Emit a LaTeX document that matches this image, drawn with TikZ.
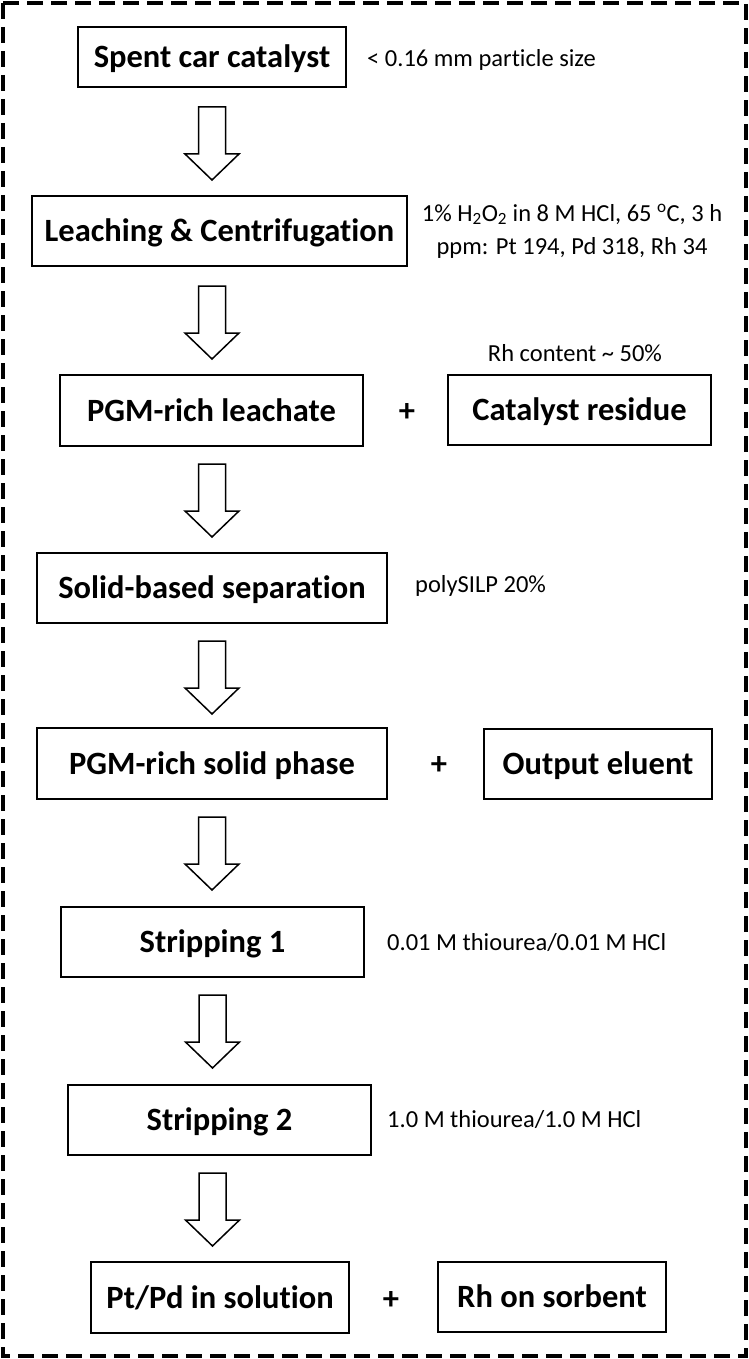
\documentclass[tikz,border=0pt]{standalone}
\usepackage{fontspec}
\setmainfont{Carlito}[Ligatures=NoCommon]
\usetikzlibrary{calc}
\tikzset{
  box/.style={draw, line width=2pt, inner sep=0pt, text height=21pt, text depth=0pt, font=\bfseries\fontsize{32.5}{39}\selectfont},
  note/.style={inner sep=0pt, text height=15.8pt, text depth=0pt, font=\fontsize{24.5}{33}\selectfont},
  notetwo/.style={inner sep=0pt, align=center, font=\fontsize{24.5}{33}\selectfont},
  plus/.style={inner sep=0pt, font=\bfseries\fontsize{32.5}{39}\selectfont},
  blockarrow/.pic={\draw[line width=1.5pt, line join=miter, fill=white]
    (-13.5,0) -- (-13.5,47) -- (-27,47) -- (0,73) -- (27,47) -- (13.5,47) -- (13.5,0) -- cycle;}
}
\begin{document}
\begin{tikzpicture}[x=1pt, y=-1pt]
\useasboundingbox (0,0) rectangle (749,1359);
\draw[line width=3.5pt, dash pattern=on 16pt off 8pt] (3,3) rectangle (746,1356);

\node[box, minimum width=268, minimum height=60] (b1) at (212,57) {Spent car catalyst};
\node[box, minimum width=375, minimum height=70] (b2) at (219.5,231) {Leaching \& Centrifugation};
\node[box, minimum width=303, minimum height=71] (b3) at (211.5,410.5) {PGM-rich leachate};
\node[box, minimum width=263, minimum height=70] (r3) at (579.5,410) {Catalyst residue};
\node[box, minimum width=350, minimum height=70] (b4) at (212,588) {Solid-based separation};
\node[box, minimum width=350, minimum height=71] (b5) at (212,763.5) {PGM-rich solid phase};
\node[box, minimum width=228, minimum height=70] (r5) at (598,764) {Output eluent};
\node[box, minimum width=303, minimum height=70] (b6) at (212.5,942) {Stripping 1};
\node[box, minimum width=303, minimum height=70] (b7) at (219.5,1120) {Stripping 2};
\node[box, minimum width=258, minimum height=71] (b8) at (220,1297.5) {Pt/Pd in solution};
\node[box, minimum width=228, minimum height=70] (r8) at (552,1297) {Rh on sorbent};

\node[plus] (p3) at (407,412) {+};
\node[plus] (p5) at (439,765) {+};
\node[plus] (p8) at (391,1300) {+};

\node[note, anchor=west] (l1) at (367,59) {< 0.16 mm particle size};
\node[notetwo] (l2) at (572,231) {1\% H\textsubscript{2}O\textsubscript{2} in 8 M HCl, 65 \textsuperscript{o}C, 3 h\\ppm: Pt 194, Pd 318, Rh 34};
\node[note] (l3) at (575,354) {Rh content \textasciitilde{} 50\%};
\node[note, anchor=west] (l4) at (415,585) {polySILP 20\%};
\node[note, anchor=west] (l6) at (387,943) {0.01 M thiourea/0.01 M HCl};
\node[note, anchor=west] (l7) at (387,1120) {1.0 M thiourea/1.0 M HCl};

\pic at ($(b1.south)+(0,19)$) {blockarrow};
\pic at ($(b1.center |- b2.south)+(0,19)$) {blockarrow};
\pic at ($(b1.center |- b3.south)+(0,17)$) {blockarrow};
\pic at ($(b1.center |- b4.south)+(0,17)$) {blockarrow};
\pic at ($(b1.center |- b5.south)+(0,17)$) {blockarrow};
\pic at ($(b6.center |- b6.south)+(0,17)$) {blockarrow};
\pic at ($(b6.center |- b7.south)+(0,17)$) {blockarrow};
\end{tikzpicture}
\end{document}
